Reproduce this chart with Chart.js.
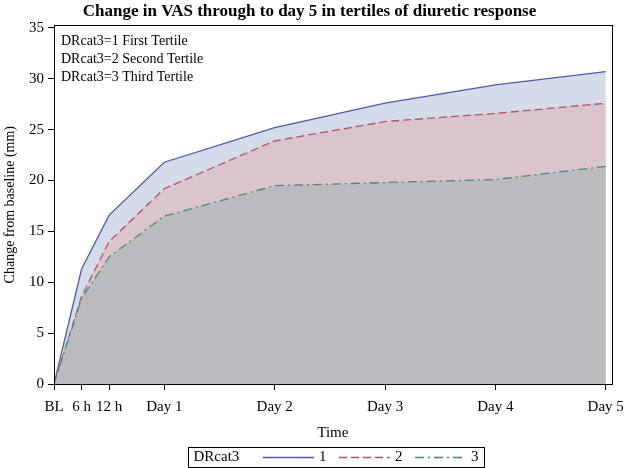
<!DOCTYPE html>
<html>
<head>
<meta charset="utf-8">
<script src="https://cdn.jsdelivr.net/npm/chart.js@4.4.1/dist/chart.umd.min.js"></script>
<style>
  html, body { margin: 0; padding: 0; background: #fff; }
  #wrap { width: 632px; height: 468px; }
</style>
</head>
<body>
<div id="wrap"><canvas id="vasChart" width="632" height="468"></canvas></div>
<script>
// hours since baseline, and the labels SAS printed for them
const hours = [0, 6, 12, 24, 48, 72, 96, 120];
const timeLabels = ["BL", "6 h", "12 h", "Day 1", "Day 2", "Day 3", "Day 4", "Day 5"];
const yTicks = [0, 5, 10, 15, 20, 25, 30, 35];

// mean change in VAS (mm) per tertile
const tertile1 = [0, 11.3, 16.6, 21.8, 25.2, 27.6, 29.4, 30.7];
const tertile2 = [0, 8.6, 14.0, 19.2, 23.9, 25.8, 26.6, 27.6];
const tertile3 = [0, 8.4, 12.5, 16.5, 19.5, 19.8, 20.1, 21.4];

const groupNames = ["1", "2", "3"];
const insetLines = ["DRcat3=1 First Tertile", "DRcat3=2 Second Tertile", "DRcat3=3 Third Tertile"];

const serif = "'Liberation Serif', 'DejaVu Serif', serif";

function toPoints(arr) {
    return arr.map((v, i) => ({ x: hours[i], y: v }));
}

// frame round the plot area + the tertile text in the corner
const framePlugin = {
    id: "frame",
    afterDraw(chart) {
        const { ctx, chartArea: a } = chart;
        ctx.save();
        ctx.strokeStyle = "#000";
        ctx.lineWidth = 1;
        ctx.strokeRect(Math.round(a.left) + 0.5, Math.round(a.top) + 0.5,
            Math.round(a.right - a.left), Math.round(a.bottom - a.top));
        ctx.fillStyle = "#000";
        ctx.font = "14px " + serif;
        ctx.textBaseline = "middle";
        insetLines.forEach((t, i) => ctx.fillText(t, a.left + 7, a.top + 16 + i * 18));
        ctx.restore();
    }
};

// SAS style legend box at the bottom
const legendPlugin = {
    id: "sasLegend",
    afterDraw(chart) {
        const ctx = chart.ctx;
        const x0 = 188.5, y0 = 447.5, w = 296, h = 20;
        ctx.save();
        ctx.strokeStyle = "#000";
        ctx.lineWidth = 1;
        ctx.strokeRect(x0, y0, w, h);
        ctx.fillStyle = "#000";
        ctx.font = "15px " + serif;
        ctx.textBaseline = "middle";
        const cy = y0 + h / 2;
        ctx.fillText("DRcat3", x0 + 5, cy);
        const starts = [263, 339, 415];
        chart.data.datasets.forEach((ds, i) => {
            ctx.save();
            ctx.strokeStyle = ds.borderColor;
            ctx.lineWidth = ds.borderWidth;
            ctx.setLineDash(ds.borderDash || []);
            ctx.beginPath();
            ctx.moveTo(starts[i], cy);
            ctx.lineTo(starts[i] + 51, cy);
            ctx.stroke();
            ctx.restore();
            ctx.fillText(groupNames[i], starts[i] + 56, cy);
        });
        ctx.restore();
    }
};

new Chart(document.getElementById("vasChart"), {
    type: "line",
    data: {
        datasets: [
            {
                label: "1",
                data: toPoints(tertile1),
                borderColor: "#5258a4",
                backgroundColor: "#d4dbeb",
                borderWidth: 1.3,
                fill: "origin",
                order: 3
            },
            {
                label: "2",
                data: toPoints(tertile2),
                borderColor: "#ad5068",
                backgroundColor: "#dcc4cc",
                borderWidth: 1.3,
                borderDash: [8, 4],
                fill: "origin",
                order: 2
            },
            {
                label: "3",
                data: toPoints(tertile3),
                borderColor: "#4d8872",
                backgroundColor: "#b9bbbe",
                borderWidth: 1.3,
                borderDash: [9, 4, 2, 4],
                fill: "origin",
                order: 1
            }
        ]
    },
    options: {
        responsive: false,
        animation: false,
        layout: { padding: { left: 0, right: 13, top: 0, bottom: 26 } },
        elements: { point: { radius: 0 }, line: { tension: 0 } },
        plugins: {
            legend: { display: false },
            tooltip: { enabled: false },
            title: {
                display: true,
                text: "Change in VAS through to day 5 in tertiles of diuretic response",
                color: "#000",
                font: { family: serif, size: 17, weight: "bold" },
                padding: { top: 1, bottom: 4 }
            }
        },
        scales: {
            x: {
                type: "linear",
                min: 0,
                max: 121.3,
                afterBuildTicks: axis => { axis.ticks = hours.map(v => ({ value: v })); },
                afterFit: axis => { axis.height = 58; },
                ticks: {
                    autoSkip: false,
                    maxRotation: 0,
                    padding: 8,
                    color: "#000",
                    font: { family: serif, size: 15 },
                    callback: v => timeLabels[hours.indexOf(v)]
                },
                grid: { drawOnChartArea: false, drawTicks: true, tickLength: 6, color: "#000" },
                border: { display: true, color: "#000" },
                title: {
                    display: true,
                    text: "Time",
                    color: "#000",
                    font: { family: serif, size: 15 },
                    padding: { top: 2, bottom: 0 }
                }
            },
            y: {
                min: 0,
                max: 35.25,
                afterBuildTicks: axis => { axis.ticks = yTicks.map(v => ({ value: v })); },
                afterFit: axis => { axis.width = 54; },
                ticks: {
                    padding: 4,
                    color: "#000",
                    font: { family: serif, size: 15 }
                },
                grid: { drawOnChartArea: false, drawTicks: true, tickLength: 6, color: "#000" },
                border: { display: true, color: "#000" },
                title: {
                    display: true,
                    text: "Change from baseline (mm)",
                    color: "#000",
                    font: { family: serif, size: 14 },
                    padding: { top: 2, bottom: 0 }
                }
            }
        }
    },
    plugins: [framePlugin, legendPlugin]
});
</script>
</body>
</html>
